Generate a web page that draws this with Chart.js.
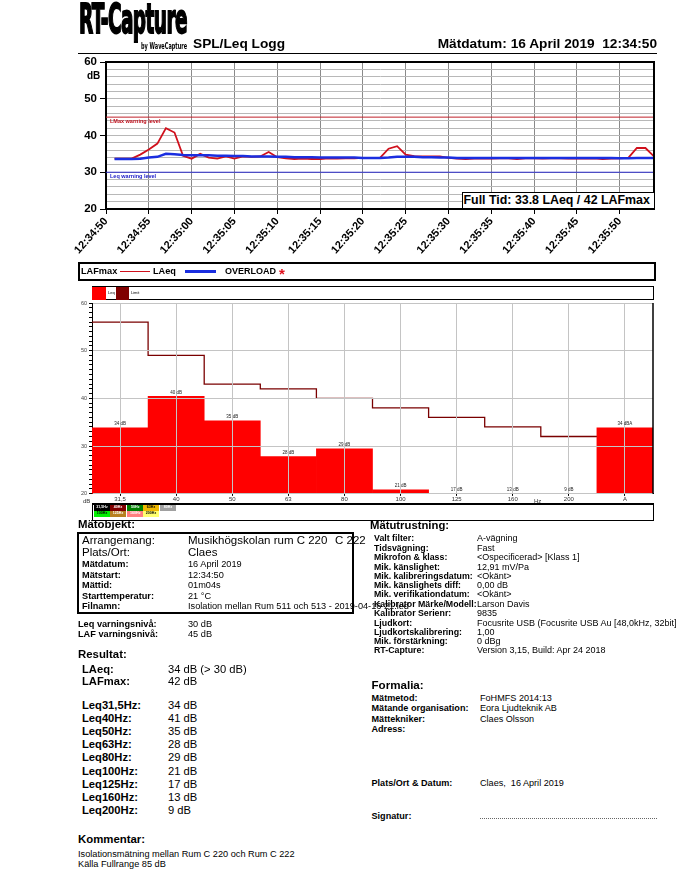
<!DOCTYPE html>
<html>
<head>
<meta charset="utf-8">
<script src="https://cdn.jsdelivr.net/npm/chart.js@4/dist/chart.umd.min.js"></script>
<style>
body { margin: 0; background: #fff; width: 677px; height: 876px; overflow: hidden; position: relative; font-family: 'Liberation Sans', Arial, sans-serif; }
.t { position: absolute; white-space: pre; line-height: 1; color: #000; }
canvas { position: absolute; left: 0; }
.box { position: absolute; box-sizing: border-box; }
</style>
</head>
<body>
<canvas id="logChart" style="top:0" width="677" height="262"></canvas>
<canvas id="bandChart" style="top:283px" width="677" height="220"></canvas>
<div id="page"></div>
<script>
// SPL/Leq log, one value per second from 12:34:50
const logSeconds = [1, 2, 3, 4, 5, 6, 7, 8, 9, 10, 11, 12, 13, 14, 15, 16, 17, 18, 19, 20,
    21, 22, 23, 24, 25, 26, 27, 28, 29, 30, 31, 32, 33, 34, 35, 36, 37, 38, 39, 40,
    41, 42, 43, 44, 45, 46, 47, 48, 49, 50, 51, 52, 53, 54, 55, 56, 57, 58, 59, 60, 61, 62, 63, 64];
const lafmax = [33.7, 33.7, 33.7, 34.8, 36.2, 37.8, 42.0, 40.8, 34.5, 33.7,
    35.0, 34.0, 33.7, 34.3, 33.7, 34.3, 34.2, 34.3, 35.5, 34.1,
    33.8, 33.6, 33.7, 33.6, 33.6, 33.8, 33.7, 33.8, 33.8, 33.9,
    33.9, 33.9, 36.4, 37.1, 34.8, 34.4, 34.3, 34.3, 34.3, 33.9,
    33.7, 33.6, 33.7, 33.8, 33.7, 33.8, 33.8, 33.6, 33.8, 33.8,
    33.7, 33.8, 33.8, 33.7, 33.8, 33.7, 33.8, 33.6, 33.7, 33.8,
    33.9, 36.6, 36.6, 34.3];
const laeq = [33.6, 33.6, 33.6, 33.7, 34.0, 34.2, 35.0, 34.9, 34.7, 34.6,
    34.6, 34.6, 34.5, 34.5, 34.4, 34.4, 34.3, 34.3, 34.3, 34.2,
    34.2, 34.1, 34.1, 34.1, 34.0, 34.0, 34.0, 34.0, 34.0, 33.9,
    33.9, 33.9, 34.0, 34.2, 34.2, 34.2, 34.1, 34.1, 34.0, 34.0,
    33.9, 33.9, 33.9, 33.9, 33.9, 33.9, 33.9, 33.9, 33.9, 33.9,
    33.9, 33.9, 33.9, 33.9, 33.9, 33.9, 33.9, 33.9, 33.9, 33.8,
    33.8, 33.9, 33.9, 33.9];
const timeLabels = ['12:34:50', '12:34:55', '12:35:00', '12:35:05', '12:35:10', '12:35:15', '12:35:20',
    '12:35:25', '12:35:30', '12:35:35', '12:35:40', '12:35:45', '12:35:50'];
const logDuration = 64;
const lmaxWarning = 45;
const leqWarning = 30;

// 1/3-octave spectrum
const bandLabels = ['31,5', '40', '50', '63', '80', '100', '125', '160', '200', 'A'];
const bandLeq = [33.8, 40.4, 35.3, 27.8, 29.4, 20.8, 16.5, 13.2, 8.6, 33.8];
const bandLimit = [56, 49, 43, 42, 40, 38, 36, 34, 32, null];
const bandTextLabels = ['34 dB', '40 dB', '35 dB', '28 dB', '29 dB', '21 dB', '17 dB', '13 dB', '9 dB', '34 dBA'];

const FONT = "'Liberation Sans', Arial, sans-serif";
const page = document.getElementById('page');

function txt(x, y, s, size, weight, extra) {
    const d = document.createElement('div');
    d.className = 't';
    d.textContent = s;
    d.style.left = x + 'px';
    d.style.top = (y - size * 0.52) + 'px';
    d.style.fontSize = size + 'px';
    if (weight) d.style.fontWeight = weight;
    if (extra) Object.assign(d.style, extra);
    page.appendChild(d);
    return d;
}
function box(x, y, w, h, style) {
    const d = document.createElement('div');
    d.className = 'box';
    Object.assign(d.style, { left: x + 'px', top: y + 'px', width: w + 'px', height: h + 'px' }, style);
    page.appendChild(d);
    return d;
}
function fitText(el, w, h) {
    const r = el.getBoundingClientRect();
    el.style.transformOrigin = '0 0';
    el.style.transform = 'scale(' + (w / r.width) + ',' + (h / r.height) + ')';
}

// header
const logo = txt(79, 0, 'RT-Capture', 36, 'bold', { fontFamily: "'DejaVu Sans Condensed', 'DejaVu Sans'", top: '0px', letterSpacing: '-1px', webkitTextStroke: '1.6px #000' });
fitText(logo, 108, 40);
const by = txt(141, 0, 'by WaveCapture', 8, 'bold', { fontFamily: "'DejaVu Sans Condensed', 'DejaVu Sans'", top: '41.5px' });
fitText(by, 46, 9);
txt(193, 44.5, 'SPL/Leq Logg', 13.7, 'bold');
txt(0, 44.5, 'Mätdatum: 16 April 2019  12:34:50', 13.7, 'bold', { left: 'auto', right: '20px' });
box(78, 53, 579, 1, { background: '#000' });

// top chart overlays
txt(87, 76, 'dB', 10, 'bold');
box(461.5, 192, 193, 17, { border: '1.5px solid #000', background: '#fff' });
txt(463.5, 200.5, 'Full Tid: 33.8 LAeq / 42 LAFmax', 12.4, 'bold');

// top legend
box(77.5, 262, 578, 19, { border: '2px solid #000' });
txt(81, 271.5, 'LAFmax', 9.2, 'bold');
box(120, 270.5, 30, 1.6, { background: '#d0101c' });
txt(153, 271.5, 'LAeq', 9.2, 'bold');
box(184.5, 270, 31, 2.6, { background: '#1a2ee0' });
txt(225, 271.5, 'OVERLOAD', 9, 'bold');
txt(279, 274, '*', 15, 'bold', { color: '#e0101c' });

// spectrum legend
box(92, 286, 561.5, 14, { border: '1px solid #000' });
box(92, 286.5, 14, 13, { background: '#ff0000' });
txt(108, 293, 'Leq', 4, null);
box(116, 286.5, 13, 13, { background: '#800000' });
txt(131, 293, 'Limit', 4, null);
txt(83, 501, 'dB', 6, null, { color: '#333' });
txt(534, 501, 'Hz', 6, null, { color: '#333' });

// octave colour key
box(92, 503, 561.5, 18, { borderTop: '2px solid #000', borderBottom: '1.5px solid #000', borderLeft: '1px solid #000', borderRight: '1px solid #000' });
const keyTags = [
    ['31,5Hz', '#000000', '#fff', 94, 505], ['40Hz', '#800000', '#fff', 110, 505], ['50Hz', '#008000', '#fff', 127.3, 505],
    ['63Hz', '#f0b800', '#000', 143, 505], ['80Hz', '#a0a0a0', '#fff', 160, 505],
    ['100Hz', '#00f000', '#000', 94, 511], ['125Hz', '#b88020', '#fff', 110, 511], ['160Hz', '#ff8080', '#fff', 127.3, 511],
    ['200Hz', '#ffff70', '#000', 143, 511]
];
keyTags.forEach(k => {
    const b = box(k[3], k[4], 16, 5.8, { background: k[1], color: k[2], fontSize: '3.6px', fontWeight: 'bold', textAlign: 'center', lineHeight: '5.8px', fontFamily: FONT });
    b.textContent = k[0];
});

// Mätobjekt
txt(78, 524.5, 'Mätobjekt:', 11.4, 'bold');
box(76.5, 532, 277, 82, { border: '2px solid #000' });
txt(82, 540.5, 'Arrangemang:', 11.5);
txt(188, 540.5, 'Musikhögskolan rum C 220', 11.5);
txt(335, 540.5, 'C 222', 11.5);
txt(82, 552.5, 'Plats/Ort:', 11.5);
txt(188, 552.5, 'Claes', 11.5);
[['Mätdatum:', '16 April 2019', 565], ['Mätstart:', '12:34:50', 576], ['Mättid:', '01m04s', 586],
 ['Starttemperatur:', '21 °C', 596.5], ['Filnamn:', 'Isolation mellan Rum 511 och 513 - 2019-04-16 21.led', 607]
].forEach(r => { txt(82, r[2], r[0], 9.2, 'bold'); txt(188, r[2], r[1], 9.2); });

// Mätutrustning
txt(370, 526, 'Mätutrustning:', 11.3, 'bold');
[['Valt filter:', 'A-vägning', 538.5], ['Tidsvägning:', 'Fast', 548.3], ['Mikrofon & klass:', '<Ospecificerad> [Klass 1]', 557.5],
 ['Mik. känslighet:', '12,91 mV/Pa', 567.3], ['Mik. kalibreringsdatum:', '<Okänt>', 576.7], ['Mik. känslighets diff:', '0,00 dB', 585.8],
 ['Mik. verifikationdatum:', '<Okänt>', 595], ['Kalibrator Märke/Modell:', 'Larson Davis', 604.3], ['Kalibrator Serienr:', '9835', 614],
 ['Ljudkort:', 'Focusrite USB (Focusrite USB Au [48,0kHz, 32bit]', 623.3], ['Ljudkortskalibrering:', '1,00', 633],
 ['Mik. förstärkning:', '0 dBg', 641.8], ['RT-Capture:', 'Version 3,15, Build: Apr 24 2018', 651]
].forEach(r => { txt(374, r[2], r[0], 8.8, 'bold'); txt(477, r[2], r[1], 9); });

// warning levels and results
txt(78, 625, 'Leq varningsnivå:', 9.2, 'bold'); txt(188, 625, '30 dB', 9.2);
txt(78, 635, 'LAF varningsnivå:', 9.2, 'bold'); txt(188, 635, '45 dB', 9.2);
txt(78, 655, 'Resultat:', 11.4, 'bold');
txt(82, 669.5, 'LAeq:', 11.2, 'bold'); txt(168, 669.5, '34 dB (> 30 dB)', 11.2);
txt(82, 681.5, 'LAFmax:', 11.2, 'bold'); txt(168, 681.5, '42 dB', 11.2);
[['Leq31,5Hz:', '34 dB', 706], ['Leq40Hz:', '41 dB', 718.5], ['Leq50Hz:', '35 dB', 731.7], ['Leq63Hz:', '28 dB', 745],
 ['Leq80Hz:', '29 dB', 758.3], ['Leq100Hz:', '21 dB', 771.7], ['Leq125Hz:', '17 dB', 785], ['Leq160Hz:', '13 dB', 797.8],
 ['Leq200Hz:', '9 dB', 811]
].forEach(r => { txt(82, r[2], r[0], 11.2, 'bold'); txt(168, r[2], r[1], 11.2); });
txt(78, 840, 'Kommentar:', 11.4, 'bold');
txt(78, 854.5, 'Isolationsmätning mellan Rum C 220 och Rum C 222', 9.2);
txt(78, 865, 'Källa Fullrange 85 dB', 9.2);

// Formalia
txt(371.5, 685, 'Formalia:', 11.6, 'bold');
[['Mätmetod:', 'FoHMFS 2014:13', 698.3], ['Mätande organisation:', 'Eora Ljudteknik AB', 708.3], ['Mättekniker:', 'Claes Olsson', 719.5]
].forEach(r => { txt(371.5, r[2], r[0], 9.1, 'bold'); txt(480, r[2], r[1], 9.1); });
txt(371.5, 730, 'Adress:', 9.1, 'bold');
txt(371.5, 784, 'Plats/Ort & Datum:', 9.1, 'bold'); txt(480, 784, 'Claes,  16 April 2019', 9.1);
txt(371.5, 817, 'Signatur:', 9.1, 'bold');
box(480, 818, 177, 1, { borderTop: '1px dotted #666' });

// ---------- SPL / Leq log chart ----------
const logFrame = {
    id: 'logFrame',
    afterDatasetsDraw(chart) {
        const { ctx, chartArea: a, scales } = chart;
        ctx.save();
        ctx.font = 'bold 5.5px ' + FONT;
        ctx.textBaseline = 'top';
        ctx.fillStyle = '#c0101c';
        ctx.fillText('LMax warning level', a.left + 4, scales.y.getPixelForValue(lmaxWarning) + 1.5);
        ctx.fillStyle = '#2020c8';
        ctx.fillText('Leq warning level', a.left + 4, scales.y.getPixelForValue(leqWarning) + 1.5);
        ctx.restore();
    },
    afterDraw(chart) {
        const { ctx, chartArea: a } = chart;
        ctx.save();
        ctx.strokeStyle = '#000';
        ctx.lineWidth = 2;
        ctx.beginPath();
        ctx.moveTo(a.left, a.top); ctx.lineTo(a.right, a.top); ctx.lineTo(a.right, a.bottom);
        ctx.stroke();
        ctx.restore();
    }
};

new Chart(document.getElementById('logChart'), {
    type: 'line',
    data: {
        datasets: [
            { label: 'LAeq', data: logSeconds.map((s, i) => ({ x: s, y: laeq[i] })), borderColor: '#1a2ee0', borderWidth: 2.5, pointRadius: 0, tension: 0 },
            { label: 'LAFmax', data: logSeconds.map((s, i) => ({ x: s, y: lafmax[i] })), borderColor: '#d0101c', borderWidth: 1.8, pointRadius: 0, tension: 0 },
            { label: 'LMax warning level', data: [{ x: 0, y: lmaxWarning }, { x: logDuration, y: lmaxWarning }], borderColor: '#c0202a', borderWidth: 1, pointRadius: 0 },
            { label: 'Leq warning level', data: [{ x: 0, y: leqWarning }, { x: logDuration, y: leqWarning }], borderColor: '#2a2ac8', borderWidth: 1, pointRadius: 0 }
        ]
    },
    options: {
        responsive: false,
        animation: false,
        devicePixelRatio: 1,
        layout: { padding: { top: 62, right: 23, left: 0, bottom: 0 } },
        plugins: { legend: { display: false }, tooltip: { enabled: false } },
        scales: {
            x: {
                type: 'linear', min: 0, max: logDuration,
                afterBuildTicks: s => { s.ticks = s.ticks.filter(t => t.value % 5 === 0); },
                afterFit: s => { s.height = 53; },
                ticks: { stepSize: 5, autoSkip: false, minRotation: 48, maxRotation: 48, padding: 1,
                    font: { family: FONT, size: 11, weight: 'bold' }, color: '#000',
                    callback: v => timeLabels[v / 5] || '' },
                grid: { color: '#8a8a8a', tickColor: '#000', tickLength: 5 },
                border: { color: '#000', width: 2 }
            },
            y: {
                min: 20, max: 60,
                afterFit: s => { s.width = 106; },
                ticks: { stepSize: 2, autoSkip: false, maxTicksLimit: 50, padding: 3,
                    font: { family: FONT, size: 11.5, weight: 'bold' }, color: '#000',
                    callback: v => (v % 10 === 0 ? v : '') },
                grid: { color: '#b8b8b8', tickLength: 6, tickColor: c => (c.tick && c.tick.value % 10 === 0 ? '#000' : 'rgba(0,0,0,0)') },
                border: { color: '#000', width: 2 }
            }
        }
    },
    plugins: [logFrame]
});

// ---------- spectrum chart ----------
const limitPoints = [];
bandLimit.forEach((v, i) => {
    if (v == null) return;
    limitPoints.push({ x: i - 0.5, y: v }, { x: i + 0.5, y: v });
});

const bandOverlay = {
    id: 'bandOverlay',
    afterDatasetsDraw(chart) {
        const { ctx, chartArea: a, scales } = chart;
        scales.x.drawGrid(a);
        scales.y.drawGrid(a);
        const meta = chart.getDatasetMeta(1);
        ctx.save();
        ctx.font = '4.5px ' + FONT;
        ctx.fillStyle = '#222';
        ctx.textAlign = 'center';
        ctx.textBaseline = 'bottom';
        meta.data.forEach((bar, i) => {
            ctx.fillText(bandTextLabels[i], bar.x, Math.min(bar.y, a.bottom) - 1.5);
        });
        ctx.strokeStyle = '#000';
        ctx.lineWidth = 1.5;
        ctx.beginPath();
        ctx.moveTo(a.right, a.top); ctx.lineTo(a.right, a.bottom);
        ctx.stroke();
        ctx.restore();
    }
};

new Chart(document.getElementById('bandChart'), {
    type: 'bar',
    data: {
        labels: bandLabels,
        datasets: [
            { type: 'line', label: 'Limit', data: limitPoints, xAxisID: 'xl', borderColor: '#7a0000', borderWidth: 1.3, pointRadius: 0, tension: 0 },
            { type: 'bar', label: 'Leq', data: bandLeq, backgroundColor: '#ff0000', grouped: false, barPercentage: 1, categoryPercentage: 1, borderWidth: 0 }
        ]
    },
    options: {
        responsive: false,
        animation: false,
        devicePixelRatio: 1,
        layout: { padding: { top: 20, right: 24, left: 0, bottom: 0 } },
        plugins: { legend: { display: false }, tooltip: { enabled: false } },
        scales: {
            x: {
                type: 'category', offset: true,
                afterFit: s => { s.height = 9.3; },
                ticks: { font: { family: FONT, size: 6 }, color: '#333', padding: 0, maxRotation: 0, autoSkip: false },
                grid: { offset: false, color: '#c4c4c4', tickColor: '#000', tickLength: 2 },
                border: { color: '#000', width: 1 }
            },
            xl: { type: 'linear', display: false, offset: false, min: -0.5, max: 9.5 },
            y: {
                min: 20, max: 60,
                afterFit: s => { s.width = 92; },
                ticks: { stepSize: 1, autoSkip: false, maxTicksLimit: 100, padding: 2,
                    font: { family: FONT, size: 5.5 }, color: '#444',
                    callback: v => (v % 10 === 0 ? v : '') },
                grid: { color: c => (c.tick && c.tick.value % 10 === 0 ? '#c4c4c4' : 'rgba(0,0,0,0)'), tickColor: '#000', tickLength: 3 },
                border: { color: '#000', width: 1 }
            }
        }
    },
    plugins: [bandOverlay]
});
</script>
</body>
</html>
